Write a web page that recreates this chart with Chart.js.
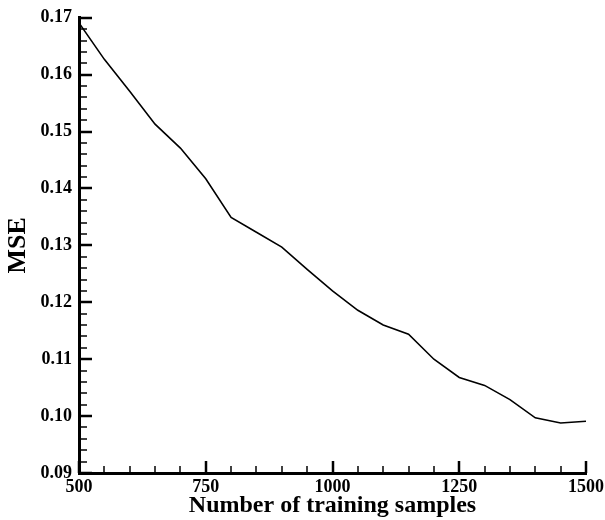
<!DOCTYPE html>
<html>
<head>
<meta charset="utf-8">
<script src="https://cdn.jsdelivr.net/npm/chart.js@4.4.0/dist/chart.umd.min.js"></script>
<style>
    html, body { margin: 0; padding: 0; background: #fff; }
    #wrap { width: 605px; height: 520px; }
</style>
</head>
<body>
<div id="wrap"><canvas id="mseChart" width="605" height="520"></canvas></div>
<script>
const samples = [500, 550, 600, 650, 700, 750, 800, 850, 900, 950, 1000, 1050, 1100, 1150, 1200, 1250, 1300, 1350, 1400, 1450, 1500]
const mse = [0.1691, 0.1627, 0.1571, 0.1513, 0.1471, 0.1417, 0.1349, 0.1323, 0.1297, 0.1258, 0.1220, 0.1186, 0.1160, 0.1144, 0.1100, 0.1068, 0.1054, 0.1029, 0.0997, 0.0988, 0.0991]
const xTicks = [500, 750, 1000, 1250, 1500]
const yTicks = [0.09, 0.10, 0.11, 0.12, 0.13, 0.14, 0.15, 0.16, 0.17]
const xMinorStep = 50
const yMinorStep = 0.002

const font = "'Liberation Serif', 'Times New Roman', serif"

// ticks pointing into the plot, majors + minors
const innerTicks = {
    id: 'innerTicks',
    afterDraw(chart) {
        const c = chart.ctx
        const area = chart.chartArea
        const xs = chart.scales.x
        const ys = chart.scales.y
        c.save()
        c.strokeStyle = '#000'

        const drawX = (v, len, w) => {
            const px = Math.round(xs.getPixelForValue(v))
            c.lineWidth = w
            c.beginPath()
            c.moveTo(px, area.bottom)
            c.lineTo(px, area.bottom - len)
            c.stroke()
        }
        const drawY = (v, len, w) => {
            const py = Math.round(ys.getPixelForValue(v))
            c.lineWidth = w
            c.beginPath()
            c.moveTo(area.left, py)
            c.lineTo(area.left + len, py)
            c.stroke()
        }

        for (let i = 0; i < xTicks.length - 1; i++) {
            for (let v = xTicks[i] + xMinorStep; v < xTicks[i + 1] - 1e-6; v += xMinorStep) {
                drawX(v, 7, 1.5)
            }
        }
        for (let i = 0; i < yTicks.length - 1; i++) {
            for (let k = 1; k < 5; k++) {
                drawY(yTicks[i] + k * yMinorStep, 8, 1.5)
            }
        }
        xTicks.forEach(v => drawX(v, 12, 2.5))
        yTicks.forEach(v => drawY(v, 13, 2.5))
        c.restore()
    }
}

const ctx = document.getElementById('mseChart').getContext('2d')

const chart = new Chart(ctx, {
    type: 'line',
    data: {
        datasets: [{
            data: samples.map((s, i) => ({ x: s, y: mse[i] })),
            borderColor: '#000',
            borderWidth: 1.6,
            pointRadius: 0,
            tension: 0,
            fill: false
        }]
    },
    options: {
        responsive: false,
        animation: false,
        devicePixelRatio: 1,
        layout: { padding: { top: 15, right: 0, left: 0, bottom: 0 } },
        plugins: {
            legend: { display: false },
            tooltip: { enabled: false }
        },
        scales: {
            x: {
                type: 'linear',
                min: 500,
                max: 1500,
                afterBuildTicks: scale => { scale.ticks = xTicks.map(v => ({ value: v })) },
                afterFit: scale => {
                    scale.height = 47
                    scale.paddingRight = 19
                    scale.paddingLeft = 0
                },
                grid: { display: false, drawTicks: false },
                border: { display: true, color: '#000', width: 3 },
                ticks: {
                    color: '#000',
                    padding: 4,
                    maxRotation: 0,
                    font: { family: font, size: 18, weight: 'bold' },
                    callback: v => String(v)
                },
                title: {
                    display: true,
                    text: 'Number of training samples',
                    color: '#000',
                    padding: { top: 0, bottom: 0 },
                    font: { family: font, size: 24, weight: 'bold' }
                }
            },
            y: {
                min: 0.09,
                max: 0.17,
                afterBuildTicks: scale => { scale.ticks = yTicks.map(v => ({ value: v })) },
                afterFit: scale => { scale.width = 79 },
                grid: { display: false, drawTicks: false },
                border: { display: true, color: '#000', width: 3 },
                ticks: {
                    color: '#000',
                    padding: 7,
                    font: { family: font, size: 18, weight: 'bold' },
                    callback: v => v.toFixed(2)
                },
                title: {
                    display: true,
                    text: 'MSE',
                    color: '#000',
                    padding: { top: 3, bottom: 0 },
                    font: { family: font, size: 26, weight: 'bold' }
                }
            }
        }
    },
    plugins: [innerTicks]
})
</script>
</body>
</html>
